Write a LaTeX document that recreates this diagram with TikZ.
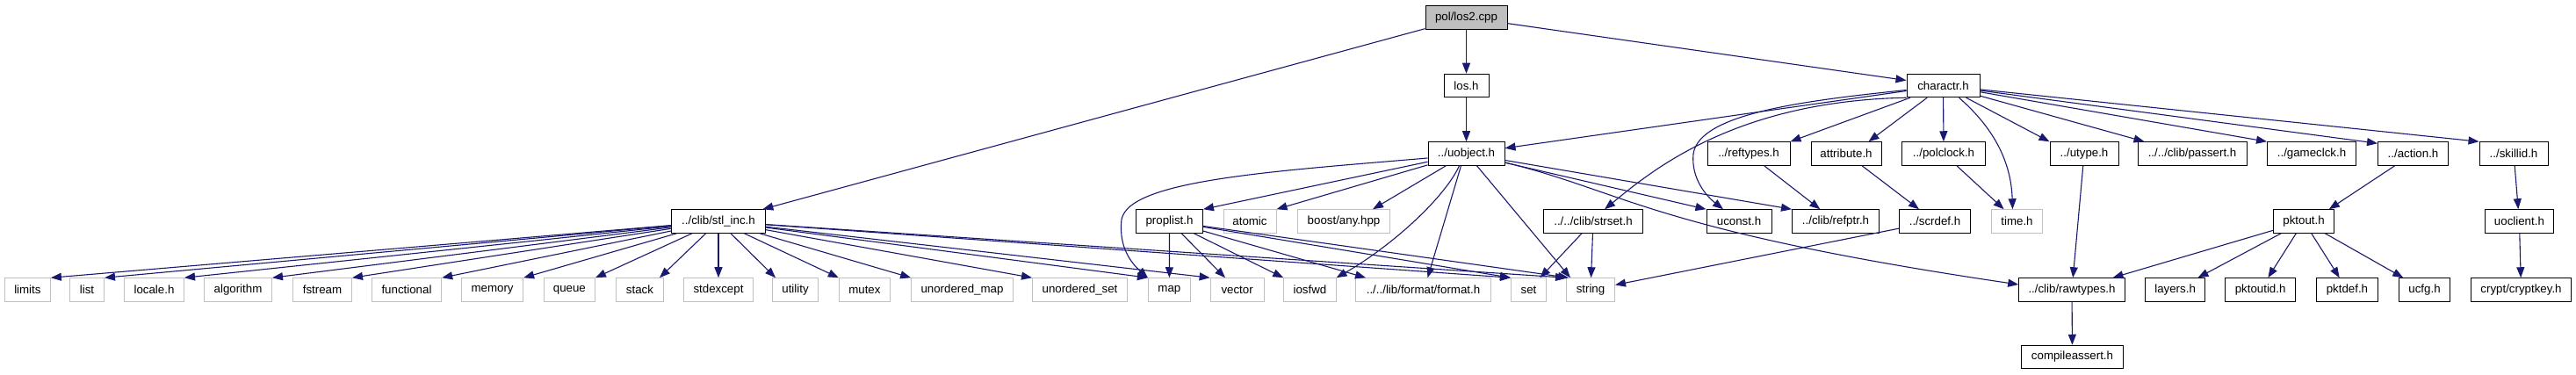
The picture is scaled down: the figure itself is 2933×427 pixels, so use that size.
\documentclass[tikz,border=0pt]{standalone}
\usepackage{fontspec}
\setmainfont{Liberation Sans}
\usetikzlibrary{arrows.meta}
\definecolor{edgecol}{HTML}{191970}
\definecolor{graycol}{HTML}{BFBFBF}
\begin{document}
\begin{tikzpicture}[x=1pt,y=-1pt,
  box/.style={draw=black, fill=white, line width=1pt, minimum height=26.5pt, inner sep=0pt, font=\fontsize{13.3}{16}\selectfont},
  gbox/.style={box, draw=graycol},
  rootbox/.style={box, fill=graycol},
  edge/.style={draw=edgecol, line width=1.1pt, -{Triangle[length=12pt,width=9pt]}}
]
\useasboundingbox[fill=white] (0,0) rectangle (2933,427);

% row 0
\node[rootbox, minimum width=93pt] (los2) at (1669.5,20) {pol/los2.cpp};
% row 1
\node[box, minimum width=51pt] (losh) at (1669.5,97.5) {los.h};
\node[box, minimum width=83pt] (charactr) at (2212.5,97.5) {charactr.h};
% row 2
\node[box, minimum width=87pt] (uobject) at (1669.5,175) {../uobject.h};
\node[box, minimum width=94pt] (reftypes) at (1991,175) {../reftypes.h};
\node[box, minimum width=80pt] (attribute) at (2102,175) {attribute.h};
\node[box, minimum width=95pt] (polclock) at (2213,175) {../polclock.h};
\node[box, minimum width=78pt] (utype) at (2373,175) {../utype.h};
\node[box, minimum width=124pt] (passert) at (2496,175) {../../clib/passert.h};
\node[box, minimum width=101pt] (gameclck) at (2632,175) {../gameclck.h};
\node[box, minimum width=80pt] (action) at (2747.5,175) {../action.h};
\node[box, minimum width=78pt] (skillid) at (2862,175) {../skillid.h};
% row 3
\node[box, minimum width=107pt] (stlinc) at (818,252) {../clib/stl\_inc.h};
\node[box, minimum width=76pt] (proplist) at (1331.5,252) {proplist.h};
\node[gbox, minimum width=60pt] (atomic) at (1423,252) {atomic};
\node[gbox, minimum width=105pt] (boostany) at (1530,252) {boost/any.hpp};
\node[box, minimum width=113pt] (strset) at (1814,252) {../../clib/strset.h};
\node[box, minimum width=74pt] (uconst) at (1980,252) {uconst.h};
\node[box, minimum width=99pt] (refptr) at (2090,252) {../clib/refptr.h};
\node[box, minimum width=81pt] (scrdef) at (2203,252) {../scrdef.h};
\node[gbox, minimum width=58.5pt] (timeh) at (2296.5,252) {time.h};
\node[box, minimum width=68.5pt] (pktout) at (2623,252) {pktout.h};
\node[box, minimum width=78pt] (uoclient) at (2868.4,252) {uoclient.h};
% row 4
\node[gbox, minimum width=52pt] (limits) at (31.4,330) {limits};
\node[gbox, minimum width=39pt] (list) at (99,330) {list};
\node[gbox, minimum width=68pt] (locale) at (175.5,330) {locale.h};
\node[gbox, minimum width=77pt] (algorithm) at (271,330) {algorithm};
\node[gbox, minimum width=67pt] (fstream) at (367,330) {fstream};
\node[gbox, minimum width=79.4pt] (functional) at (463,330) {functional};
\node[gbox, minimum width=70pt] (memory) at (560.6,330) {memory};
\node[gbox, minimum width=58pt] (queue) at (648.4,330) {queue};
\node[gbox, minimum width=54pt] (stack) at (728.5,330) {stack};
\node[gbox, minimum width=79pt] (stdexcept) at (818,330) {stdexcept};
\node[gbox, minimum width=52pt] (utility) at (905.5,330) {utility};
\node[gbox, minimum width=58pt] (mutex) at (984.4,330) {mutex};
\node[gbox, minimum width=115.7pt] (umap) at (1095.5,330) {unordered\_map};
\node[gbox, minimum width=108pt] (uset) at (1229.5,330) {unordered\_set};
\node[gbox, minimum width=48pt] (map) at (1331.4,330) {map};
\node[gbox, minimum width=61pt] (vector) at (1408.6,330) {vector};
\node[gbox, minimum width=59.3pt] (iosfwd) at (1491.4,330) {iosfwd};
\node[gbox, minimum width=154pt] (format) at (1620.5,330) {../../lib/format/format.h};
\node[gbox, minimum width=40pt] (set) at (1740.5,330) {set};
\node[gbox, minimum width=55pt] (string) at (1811,330) {string};
\node[box, minimum width=120.6pt] (rawtypes) at (2359,330) {../clib/rawtypes.h};
\node[box, minimum width=68pt] (layers) at (2476.6,330) {layers.h};
\node[box, minimum width=80pt] (pktoutid) at (2573.6,330) {pktoutid.h};
\node[box, minimum width=69.6pt] (pktdef) at (2672.4,330) {pktdef.h};
\node[box, minimum width=58pt] (ucfg) at (2760.5,330) {ucfg.h};
\node[box, minimum width=114pt] (cryptkey) at (2870.5,330) {crypt/cryptkey.h};
% row 5
\node[box, minimum width=116.4pt] (compileassert) at (2359.5,406.5) {compileassert.h};

% root edges
\draw[edge] (los2) -- (losh);
\draw[edge] (los2) -- (stlinc);
\draw[edge] (los2) -- (charactr);
\draw[edge] (losh) -- (uobject);
\draw[edge] (charactr) -- (uobject);

% stl_inc.h
\draw[edge] (stlinc) -- (limits.north east);
\draw[edge] (stlinc) -- (list.north east);
\draw[edge] (stlinc) -- (locale.north east);
\draw[edge] (stlinc) -- (algorithm.north east);
\draw[edge] (stlinc) -- (fstream.north east);
\draw[edge] (stlinc) -- (functional.north east);
\draw[edge] (stlinc) -- (memory.north east);
\draw[edge] (stlinc) -- (queue.north east);
\draw[edge] (stlinc) -- ([xshift=-5pt]stack.north east);
\draw[edge] (stlinc) -- (stdexcept);
\draw[edge] (stlinc) -- ([xshift=4pt]utility.north west);
\draw[edge] (stlinc) -- (mutex.north west);
\draw[edge] (stlinc) -- (umap.north west);
\draw[edge] (stlinc) -- (uset.north west);
\draw[edge] (stlinc) -- (map.north west);
\draw[edge] (stlinc) -- (vector.north west);
\draw[edge] (stlinc) -- (set.north west);
\draw[edge] (stlinc) -- (string.north west);

% proplist.h
\draw[edge] (proplist) -- (map);
\draw[edge] (proplist) -- (vector);
\draw[edge] (proplist) -- (iosfwd.north west);
\draw[edge] (proplist) -- ([xshift=12pt]format.north west);
\draw[edge] (proplist) -- (set.north west);
\draw[edge] (proplist) -- ([xshift=3pt]string.north west);

% uobject.h
\draw[edge] (uobject) -- (proplist.north east);
\draw[edge] (uobject) -- (atomic.north east);
\draw[edge] (uobject) -- ([xshift=-20pt]boostany.north east);
\draw[edge] ([yshift=-5pt]uobject.west) .. controls (1450,195) and (1285,205) .. (1277,250) .. controls (1273,285) and (1292,303) .. (map.north west);
\draw[edge] ([xshift=-8pt]uobject.south) .. controls (1645,225) and (1585,280) .. (iosfwd.north east);
\draw[edge] ([xshift=-6pt]uobject.south) -- ([xshift=5pt]format.north);
\draw[edge] ([xshift=12pt]uobject.south) -- ([xshift=5pt]string.north west);
\draw[edge] (uobject) -- (uconst.north west);
\draw[edge] (uobject) -- (refptr.north west);
\draw[edge] ([yshift=-10pt]uobject.east) .. controls (1850,218) and (1880,262) .. ([yshift=6pt]rawtypes.west);

% charactr.h
\draw[edge] (charactr) -- (reftypes.north east);
\draw[edge] (charactr) -- ([xshift=-15pt]attribute.north east);
\draw[edge] (charactr) -- (polclock);
\draw[edge] ([xshift=18pt]charactr.south) .. controls (2275,150) and (2290,190) .. ([xshift=-5pt]timeh.north);
\draw[edge] (charactr) -- (utype.north west);
\draw[edge] (charactr) -- ([xshift=8pt]passert.north west);
\draw[edge] (charactr) -- (gameclck.north west);
\draw[edge] (charactr) -- ([yshift=-2pt]action.north west);
\draw[edge] (charactr) -- (skillid.north west);
\draw[edge] (charactr.south west) .. controls (1975,115) and (1880,195) .. ([xshift=13pt]strset.north);
\draw[edge] ([yshift=-5pt]charactr.west) .. controls (2050,115) and (1935,130) .. (1928,175) .. controls (1925,205) and (1945,225) .. ([xshift=-18pt]uconst.north);

% others
\draw[edge] (reftypes) -- (refptr);
\draw[edge] (attribute) -- (scrdef);
\draw[edge] (polclock) -- (timeh);
\draw[edge] (utype) -- (rawtypes);
\draw[edge] (action) -- ([xshift=-6pt]pktout.north east);
\draw[edge] (skillid) -- (uoclient);
\draw[edge] (pktout) -- (rawtypes);
\draw[edge] (pktout) -- (layers);
\draw[edge] (pktout) -- (pktoutid);
\draw[edge] (pktout) -- (pktdef);
\draw[edge] (pktout) -- (ucfg);
\draw[edge] (uoclient) -- (cryptkey);
\draw[edge] (rawtypes) -- (compileassert);
\draw[edge] (strset) -- (set);
\draw[edge] (strset) -- (string);
\draw[edge] (scrdef) -- (string);
\end{tikzpicture}
\end{document}
